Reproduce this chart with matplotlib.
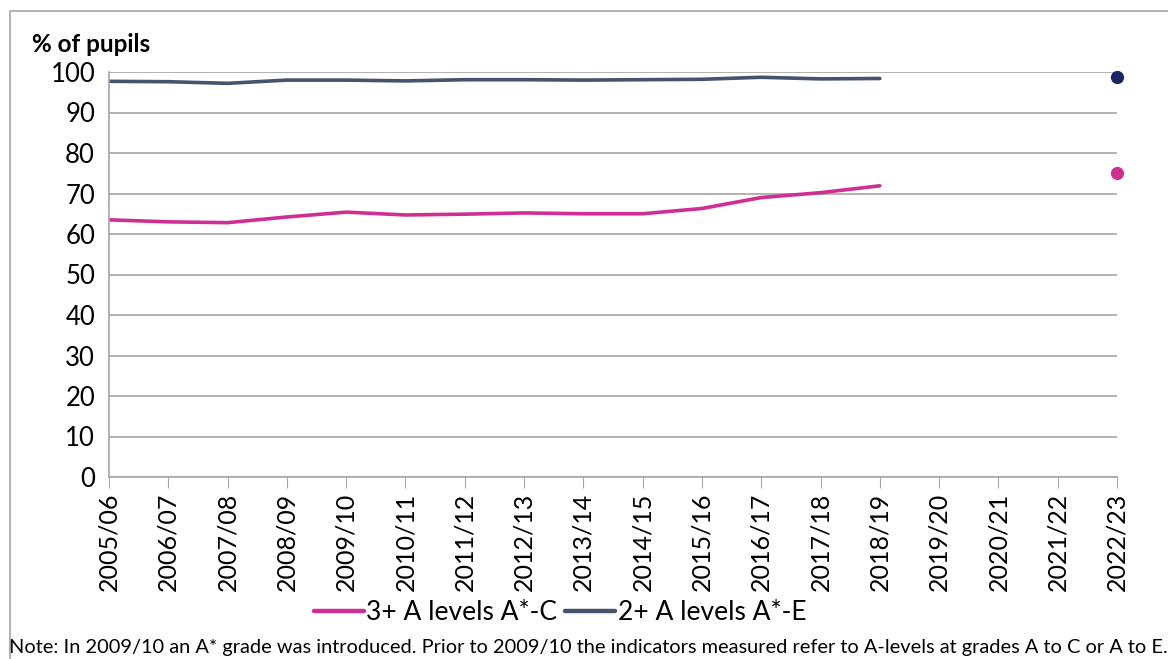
import matplotlib
matplotlib.use("Agg")
import matplotlib.pyplot as plt
from matplotlib.lines import Line2D

plt.rcParams["font.family"] = ["Lato", "DejaVu Sans"]

years = ["2005/06", "2006/07", "2007/08", "2008/09", "2009/10", "2010/11",
         "2011/12", "2012/13", "2013/14", "2014/15", "2015/16", "2016/17",
         "2017/18", "2018/19", "2019/20", "2020/21", "2021/22", "2022/23"]

# series to 2018/19; no data for the covid years
a_c_3plus = [63.5, 63.0, 62.8, 64.2, 65.4, 64.7, 64.9, 65.2, 65.0, 65.0,
             66.3, 69.0, 70.2, 71.9]
a_e_2plus = [97.7, 97.6, 97.2, 98.0, 98.0, 97.8, 98.1, 98.1, 98.0, 98.1,
             98.2, 98.7, 98.3, 98.4]
latest_year = "2022/23"
latest_a_c = 75.1
latest_a_e = 98.7

PINK = "#CF2F93"
SLATE = "#44546A"
NAVY = "#1B2463"
GRID = "#A6A6A6"

fig = plt.figure(figsize=(11.68, 6.59), dpi=100)
ax = fig.add_axes([109 / 1168, 1 - 477 / 659, 1008 / 1168, 405 / 659])

x = list(range(len(years)))
ax.plot(x[:len(a_c_3plus)], a_c_3plus, color=PINK, lw=2.6,
        solid_capstyle="round", label="3+ A levels A*-C")
ax.plot(x[:len(a_e_2plus)], a_e_2plus, color=SLATE, lw=2.6,
        solid_capstyle="round", label="2+ A levels A*-E")
li = years.index(latest_year)
ax.plot([li], [latest_a_c], "o", color=PINK, ms=8.5, clip_on=False, zorder=5)
ax.plot([li], [latest_a_e], "o", color=NAVY, ms=8.5, clip_on=False, zorder=5)

ax.set_xlim(0, len(years) - 1)
ax.set_ylim(0, 100)
ax.set_yticks(range(0, 101, 10))
ax.set_xticks(x)
ax.set_xticklabels(years, rotation=90)
ax.tick_params(axis="y", length=0, labelsize=18.5, pad=10)
ax.tick_params(axis="x", length=8, color=GRID, labelsize=18, pad=3)
ax.grid(axis="y", color=GRID, lw=1.2)
ax.set_axisbelow(True)
for s in ["top", "right"]:
    ax.spines[s].set_visible(False)
for s in ["left", "bottom"]:
    ax.spines[s].set_color(GRID)
    ax.spines[s].set_linewidth(1.2)

fig.text(32 / 1168, 1 - 44 / 659, "% of pupils", fontsize=17.5, fontweight="bold",
         va="center", ha="left")

leg = fig.legend(loc="center", bbox_to_anchor=(560 / 1168, 1 - 613 / 659), ncol=2,
                 frameon=False, fontsize=19, handlelength=1.9, handletextpad=0.1,
                 columnspacing=0.3)
for h in leg.get_lines():
    h.set_linewidth(3.2)

fig.text(588 / 1168, 1 - 648 / 659,
         "Note: In 2009/10 an A* grade was introduced. Prior to 2009/10 the "
         "indicators measured refer to A-levels at grades A to C or A to E.",
         fontsize=14.4, ha="center", va="center")

# outer chart border (left and top edges)
fig.add_artist(Line2D([10 / 1168, 10 / 1168, 1], [0, 1 - 11 / 659, 1 - 11 / 659],
                      transform=fig.transFigure, color=GRID, lw=1.2))

fig.savefig("out.png", dpi=100)
